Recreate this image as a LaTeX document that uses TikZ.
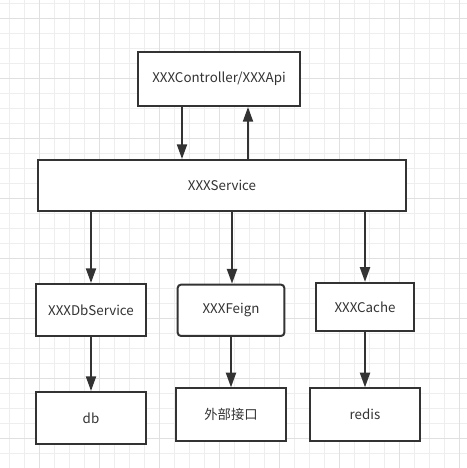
\documentclass[tikz,border=0pt]{standalone}
\usepackage{fontspec}
\setmainfont{Noto Sans CJK SC}
\usetikzlibrary{arrows.meta}
\definecolor{gridminor}{HTML}{EEEEEE}
\definecolor{gridmajor}{HTML}{E0E0E0}
\definecolor{ink}{HTML}{333333}
\begin{document}
\begin{tikzpicture}[x=0.75pt,y=-0.75pt,
  box/.style={draw=ink, line width=1.5pt, fill=white, text=ink, font=\fontsize{10}{12}\selectfont},
  arr/.style={draw=ink, line width=1.5pt, -{Triangle[length=11pt,width=7.5pt]}}]
  \useasboundingbox (0,0) rectangle (467,468);
  % grid in the background
  \foreach \x in {9.3,24.3,...,464.3}
    \draw[gridminor, line width=0.75pt] (\x,0) -- (\x,468);
  \foreach \y in {3.3,18.3,...,464.3}
    \draw[gridminor, line width=0.75pt] (0,\y) -- (467,\y);
  \foreach \x in {39.3,99.3,...,459.3}
    \draw[gridmajor, line width=0.75pt] (\x,0) -- (\x,468);
  \foreach \y in {18.3,78.3,...,438.3}
    \draw[gridmajor, line width=0.75pt] (0,\y) -- (467,\y);

  \node[box, minimum width=121.5pt, minimum height=40.5pt] (ctrl) at (219,79) {XXXController/XXXApi};
  \node[box, minimum width=276pt, minimum height=38.25pt] (svc) at (222,185.5) {XXXService};

  \node[box, minimum width=82.5pt, minimum height=39pt] (dbsvc) at (91,310) {XXXDbService};
  \node[box, minimum width=80pt, minimum height=38.5pt, rounded corners=2.5pt] (feign) at (231,310.3) {XXXFeign};
  \node[box, minimum width=74pt, minimum height=36.2pt] (cache) at (365,307) {XXXCache};

  \node[box, minimum width=82.5pt, minimum height=39pt] (db) at (91,418) {db};
  \node[box, minimum width=82.7pt, minimum height=39.5pt] (extapi) at (231,414.7) {外部接口};
  \node[box, minimum width=82.7pt, minimum height=39.5pt] (redis) at (365,414.7) {redis};

  \draw[arr] (ctrl.south -| 182,0) -- (svc.north -| 182,0);
  \draw[arr] (svc.north -| 248,0) -- (ctrl.south -| 248,0);
  \draw[arr] (svc.south -| dbsvc.north) -- (dbsvc.north);
  \draw[arr] (svc.south -| 232,0) -- (feign.north -| 232,0);
  \draw[arr] (svc.south -| cache.north) -- (cache.north);
  \draw[arr] (dbsvc) -- (db);
  \draw[arr] (feign) -- (extapi);
  \draw[arr] (cache) -- (redis);
\end{tikzpicture}
\end{document}
